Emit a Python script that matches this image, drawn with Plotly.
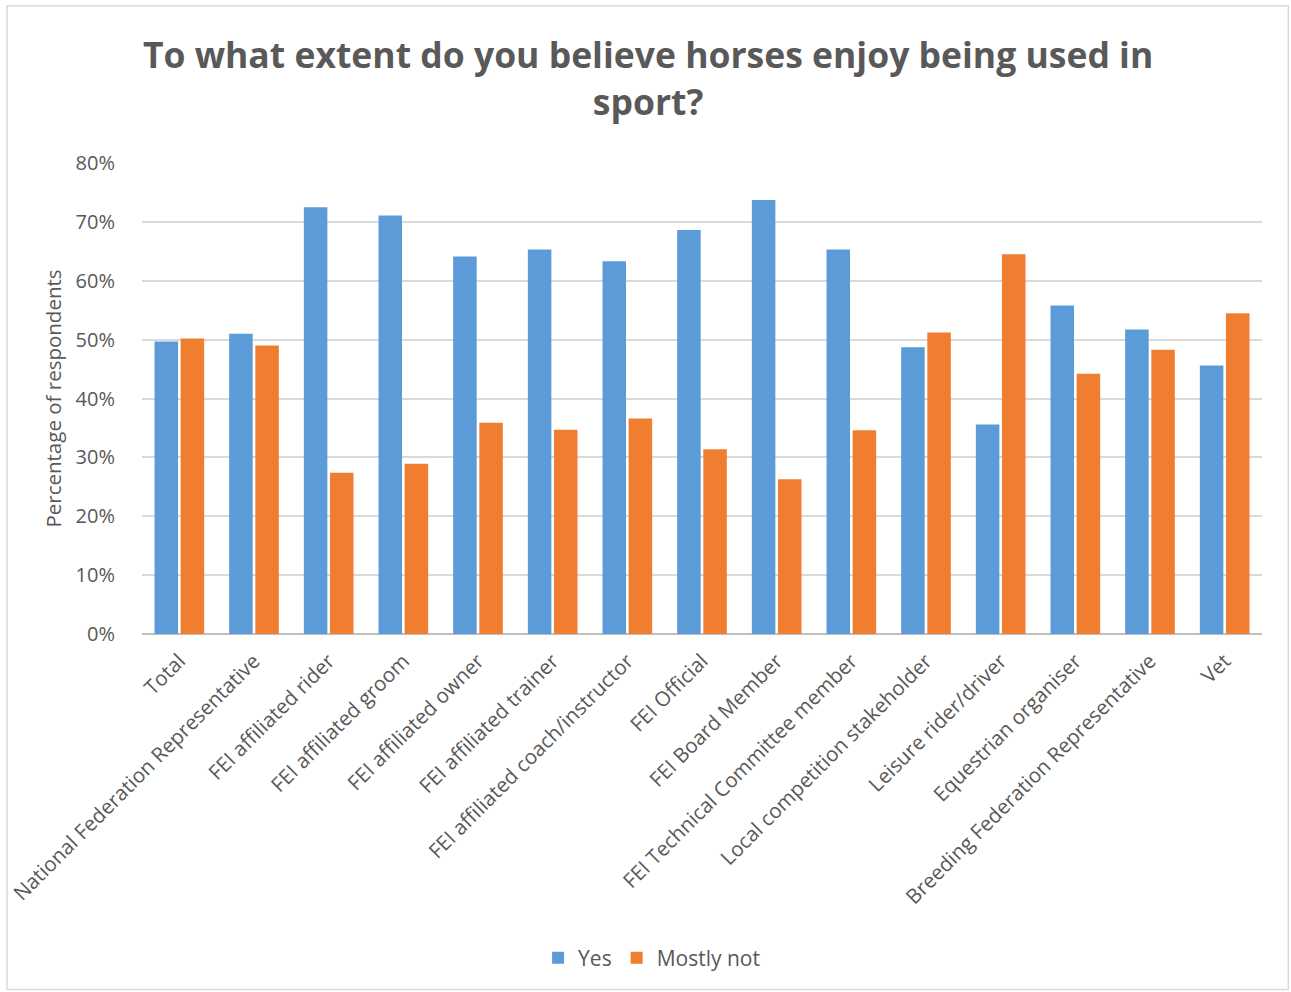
import plotly.graph_objects as go

categories = [
    "Total",
    "National Federation Representative",
    "FEI affiliated rider",
    "FEI affiliated groom",
    "FEI affiliated owner",
    "FEI affiliated trainer",
    "FEI affiliated coach/instructor",
    "FEI Official",
    "FEI Board Member",
    "FEI Technical Committee member",
    "Local competition stakeholder",
    "Leisure rider/driver",
    "Equestrian organiser",
    "Breeding Federation Representative",
    "Vet",
]
yes_values = [0.497, 0.510, 0.725, 0.711, 0.641, 0.653, 0.633, 0.686, 0.737, 0.653,
              0.487, 0.356, 0.558, 0.517, 0.456]
mostly_not_values = [0.502, 0.490, 0.274, 0.289, 0.359, 0.347, 0.366, 0.314, 0.263, 0.346,
                     0.512, 0.645, 0.442, 0.483, 0.545]
y_ticks = [0, 0.1, 0.2, 0.3, 0.4, 0.5, 0.6, 0.7, 0.8]

TEXT = "#595959"
FONT = "Open Sans"

fig = go.Figure()
fig.add_trace(go.Bar(name="Yes", x=categories, y=yes_values,
                     marker=dict(color="#5A9BD8", line=dict(width=0))))
fig.add_trace(go.Bar(name="Mostly not", x=categories, y=mostly_not_values,
                     marker=dict(color="#F07E31", line=dict(width=0))))

fig.update_layout(
    width=1291, height=992,
    paper_bgcolor="white", plot_bgcolor="white",
    margin=dict(l=142, r=29, t=163, b=358),
    barmode="group", bargap=0.3, bargroupgap=0.1,
    font=dict(family=FONT, color=TEXT),
    title=dict(
        text="<b>To what extent do you believe horses enjoy being used in<br>sport?</b>",
        x=0.502, xref="container", xanchor="center",
        y=0.931, yref="container", yanchor="middle",
        font=dict(family=FONT, size=35.5, color=TEXT),
    ),
    legend=dict(orientation="h", x=0.455, xanchor="center", y=-0.688, yanchor="middle",
                font=dict(family=FONT, size=21, color=TEXT), itemwidth=30,
                traceorder="normal"),
    showlegend=True,
)
fig.update_yaxes(
    range=[0, 0.8], tickvals=y_ticks, tickformat=".0%", automargin=False,
    showgrid=True, gridcolor="#D9D9D9", gridwidth=2,
    zeroline=True, zerolinecolor="#BFBFBF", zerolinewidth=2,
    ticks="outside", ticklen=22, tickcolor="rgba(0,0,0,0)",
    tickfont=dict(family=FONT, size=20, color=TEXT),
    title=dict(text="Percentage of respondents", standoff=8,
               font=dict(family=FONT, size=20.5, color=TEXT)),
)
fig.update_xaxes(
    tickangle=-45, tickfont=dict(family=FONT, size=20.5, color=TEXT),
    ticks="outside", ticklen=6, tickcolor="rgba(0,0,0,0)",
    showline=False, automargin=False,
)

# outer chart frame
fig.add_shape(type="rect", xref="paper", yref="paper",
              x0=-0.1205, x1=1.0235, y0=-0.755, y1=1.334,
              line=dict(color="#D9D9D9", width=1.5), fillcolor="rgba(0,0,0,0)",
              layer="below")

fig.write_html("out.html")
